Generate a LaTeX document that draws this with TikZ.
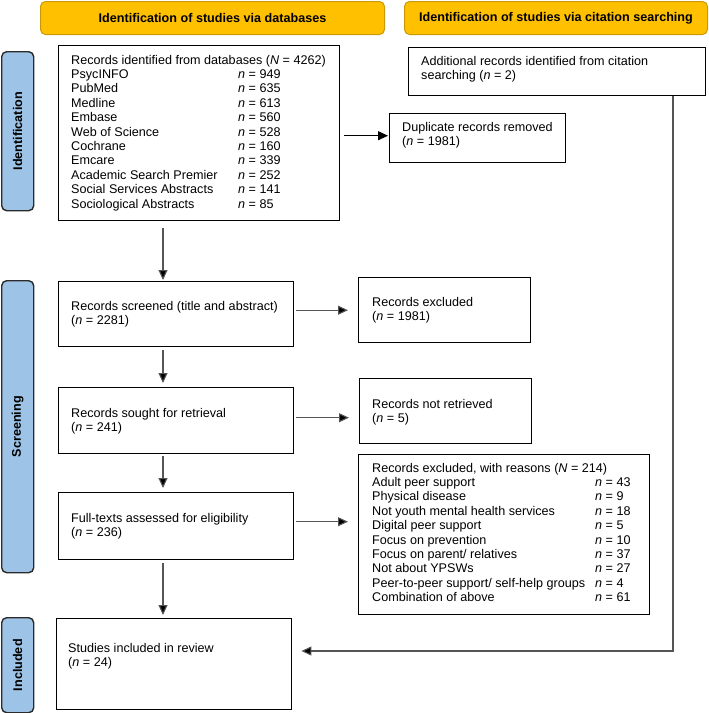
\documentclass[tikz,border=0pt]{standalone}
\usepackage{fontspec}
\setmainfont{Liberation Sans}
\usetikzlibrary{arrows.meta,calc}
\definecolor{hdrfill}{HTML}{FFC000}
\definecolor{hdrline}{HTML}{C99A06}
\definecolor{sidefill}{HTML}{9DC3E6}
\definecolor{sideline}{HTML}{2B2B2B}
\definecolor{conn}{HTML}{555555}
\newcommand{\nval}{\textit{n}}
\newcommand{\Nval}{\textit{N}}
\begin{document}
\begin{tikzpicture}[x=1pt,y=-1pt,
  hdr/.style={draw=hdrline, fill=hdrfill, line width=1pt, rounded corners=5pt, anchor=north west, inner sep=0,
    font=\fontsize{12.6}{14.4}\selectfont\bfseries},
  sidebox/.style={draw=sideline, fill=sidefill, line width=1.4pt, rounded corners=5pt, anchor=north west, inner sep=0},
  sidetxt/.style={rotate=90, inner sep=0, font=\fontsize{12.6}{14.4}\selectfont\bfseries},
  box/.style={draw=black, line width=1.4pt, anchor=north west, inner sep=0, fill=white},
  txt/.style={inner sep=0, anchor=base west, font=\fontsize{12.6}{14.4}\selectfont},
  arr/.style={draw=conn, line width=1.1pt, -{Triangle[length=10pt,width=9pt,fill=black]}},
  arrk/.style={draw=black, line width=1.1pt, -{Triangle[length=10pt,width=9pt,fill=black]}}
]
\useasboundingbox (0,0) rectangle (709,713);

% headers
\node[hdr, minimum width=344pt, minimum height=33pt] (h1) at (40,1) {Identification of studies via databases};
\node[hdr, minimum width=303pt, minimum height=33pt] (h2) at (404,1) {Identification of studies via citation searching};

% side labels
\node[sidebox, minimum width=32pt, minimum height=159pt] (s1) at (1,51) {};
\node[sidetxt] (s1t) at (s1.center) {Identification};
\node[sidebox, minimum width=32pt, minimum height=292pt] (s2) at (1,280) {};
\node[sidetxt] (s2t) at (s2.center) {Screening};
\node[sidebox, minimum width=32pt, minimum height=95pt] (s3) at (1,617) {};
\node[sidetxt] (s3t) at (s3.center) {Included};

% boxes
\node[box, minimum width=281pt, minimum height=175pt] (ident) at (58,45) {};
\node[txt] (identT) at (71,64) {\begin{tabular}[t]{@{}p{167pt}@{}l@{}}
\multicolumn{2}{@{}l@{}}{Records identified from databases (\Nval{} = 4262)}\\
PsycINFO & \nval{} = 949\\
PubMed & \nval{} = 635\\
Medline & \nval{} = 613\\
Embase & \nval{} = 560\\
Web of Science & \nval{} = 528\\
Cochrane & \nval{} = 160\\
Emcare & \nval{} = 339\\
Academic Search Premier & \nval{} = 252\\
Social Services Abstracts & \nval{} = 141\\
Sociological Abstracts & \nval{} = 85
\end{tabular}};

\node[box, minimum width=297pt, minimum height=48pt] (add) at (408,47) {};
\node[txt] (addT) at (421,65) {\begin{tabular}[t]{@{}l@{}}Additional records identified from citation\\ searching (\nval{} = 2)\end{tabular}};

\node[box, minimum width=176pt, minimum height=49pt] (dup) at (389,113) {};
\node[txt] (dupT) at (402,131) {\begin{tabular}[t]{@{}l@{}}Duplicate records removed\\ (\nval{} = 1981)\end{tabular}};

\node[box, minimum width=235pt, minimum height=65pt] (scr) at (58,281) {};
\node[txt] (scrT) at (71,310) {\begin{tabular}[t]{@{}l@{}}Records screened (title and abstract)\\ (\nval{} = 2281)\end{tabular}};

\node[box, minimum width=172pt, minimum height=65pt] (excl) at (358,277) {};
\node[txt] (exclT) at (372,306) {\begin{tabular}[t]{@{}l@{}}Records excluded\\ (\nval{} = 1981)\end{tabular}};

\node[box, minimum width=235pt, minimum height=66pt] (sought) at (58,387) {};
\node[txt] (soughtT) at (71,417) {\begin{tabular}[t]{@{}l@{}}Records sought for retrieval\\ (\nval{} = 241)\end{tabular}};

\node[box, minimum width=172pt, minimum height=65pt] (notret) at (359,378) {};
\node[txt] (notretT) at (372,408) {\begin{tabular}[t]{@{}l@{}}Records not retrieved\\ (\nval{} = 5)\end{tabular}};

\node[box, minimum width=235pt, minimum height=67pt] (full) at (58,492) {};
\node[txt] (fullT) at (71,522) {\begin{tabular}[t]{@{}l@{}}Full-texts assessed for eligibility\\ (\nval{} = 236)\end{tabular}};

\node[box, minimum width=291pt, minimum height=160pt] (reas) at (358,454) {};
\node[txt] (reasT) at (372,472) {\begin{tabular}[t]{@{}p{223pt}@{}l@{}}
\multicolumn{2}{@{}l@{}}{Records excluded, with reasons (\Nval{} = 214)}\\
Adult peer support & \nval{} = 43\\
Physical disease & \nval{} = 9\\
Not youth mental health services & \nval{} = 18\\
Digital peer support & \nval{} = 5\\
Focus on prevention & \nval{} = 10\\
Focus on parent/ relatives & \nval{} = 37\\
Not about YPSWs & \nval{} = 27\\
Peer-to-peer support/ self-help groups & \nval{} = 4\\
Combination of above & \nval{} = 61
\end{tabular}};

\node[box, minimum width=235pt, minimum height=91pt] (stud) at (56,618) {};
\node[txt] (studT) at (68,652) {\begin{tabular}[t]{@{}l@{}}Studies included in review\\ (\nval{} = 24)\end{tabular}};

% connectors
\coordinate (spine) at (163,0);
\coordinate (cit) at (673,651);
\draw[arr, shorten <=7pt, shorten >=1pt] (ident.south -| spine) -- (scr.north -| spine);
\draw[arr, shorten <=3pt, shorten >=4pt] (scr.south -| spine) -- (sought.north -| spine);
\draw[arr, shorten <=2pt, shorten >=4pt] (sought.south -| spine) -- (full.north -| spine);
\draw[arr, shorten <=3pt, shorten >=3pt] (full.south -| spine) -- (stud.north -| spine);
\draw[arrk, shorten <=4pt, shorten >=1pt] ([yshift=2.5pt]ident.east |- dup.west) -- ([yshift=2.5pt]dup.west);
\draw[arr, shorten <=2pt, shorten >=10pt] (scr.east |- excl.west) -- (excl.west);
\draw[arr, shorten <=2pt, shorten >=10pt] ([yshift=3pt]sought.east) -- ([yshift=3pt]sought.east -| notret.west);
\draw[arr, shorten <=2pt, shorten >=10pt] ([yshift=4.5pt]full.east) -- ([yshift=4.5pt]full.east -| reas.west);
\draw[arr, shorten >=9pt] (add.south -| cit) -- (cit) -- (stud.east |- cit);
\end{tikzpicture}
\end{document}
